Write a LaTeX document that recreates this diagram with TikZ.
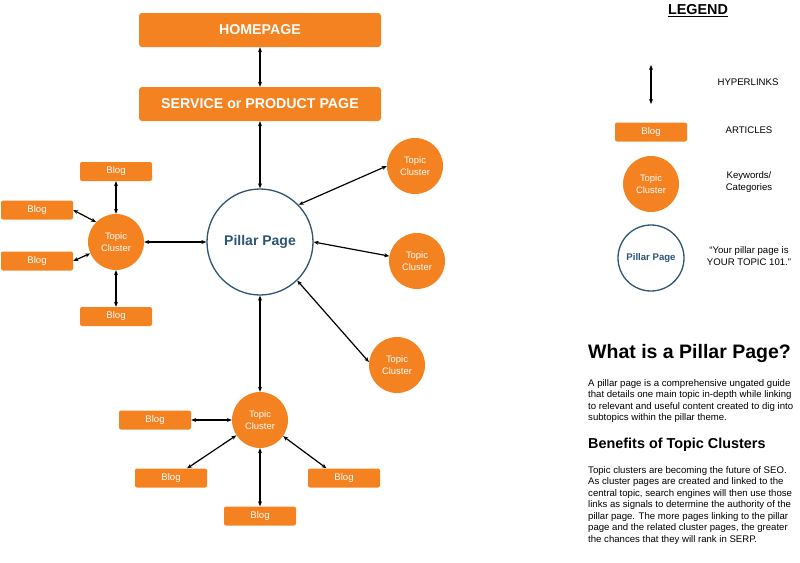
\documentclass[tikz,border=0pt]{standalone}
\usepackage{fontspec}
\setmainfont{Liberation Sans}
\usetikzlibrary{arrows.meta,positioning,calc}
\definecolor{seoorange}{RGB}{245,130,32}
\definecolor{pillarblue}{RGB}{46,84,117}
\tikzset{
  pagebox/.style={fill=seoorange, rounded corners=3pt, minimum width=242pt, minimum height=34pt, text=white, font=\bfseries\fontsize{14.2}{16}\selectfont},
  blogbox/.style={fill=seoorange, rounded corners=2pt, minimum width=72pt, minimum height=19pt, inner sep=0pt, text=white, font=\fontsize{9.6}{11}\selectfont},
  topicnd/.style={circle, fill=seoorange, minimum size=56pt, inner sep=0pt, text=white, align=center, font=\fontsize{9.4}{11.7}\selectfont},
  pillarnd/.style={circle, draw=pillarblue, line width=1.3pt, fill=white, minimum size=106pt, inner sep=0pt, text=pillarblue, font=\bfseries\fontsize{14}{16}\selectfont},
  linkln/.style={{Stealth[length=5pt,width=4pt]}-{Stealth[length=5pt,width=4pt]}, line width=1.2pt},
  legtxt/.style={font=\fontsize{9.6}{12.3}\selectfont, align=center},
  bodytxt/.style={anchor=north west, inner sep=0pt, align=left, font=\fontsize{9.6}{11.5}\selectfont},
}

\begin{document}
\begin{tikzpicture}[x=1pt, y=-1pt]
    \useasboundingbox (0,0) rectangle (800,562);
    % pages
    \node[pagebox] (home) at (260,30) {HOMEPAGE};
    \node[pagebox] (service) at (260,104) {SERVICE or PRODUCT PAGE};
    \node[pillarnd] (pillar) at (260,242) {Pillar Page};
    % left cluster
    \node[topicnd] (leftc) at (116,242) {Topic\\Cluster};
    \node[blogbox] (lb1) at (116,171.5) {Blog};
    \node[blogbox] (lb2) at (37,210) {Blog};
    \node[blogbox] (lb3) at (37,261) {Blog};
    \node[blogbox] (lb4) at (116,316.5) {Blog};
    % right clusters
    \node[topicnd] (rc1) at (415,166) {Topic\\Cluster};
    \node[topicnd] (rc2) at (417,261) {Topic\\Cluster};
    \node[topicnd] (rc3) at (397,365) {Topic\\Cluster};
    % bottom cluster
    \node[topicnd] (botc) at (260,420) {Topic\\Cluster};
    \node[blogbox] (bb1) at (155,420) {Blog};
    \node[blogbox] (bb2) at (171,478) {Blog};
    \node[blogbox] (bb3) at (260,516) {Blog};
    \node[blogbox] (bb4) at (344,478) {Blog};
    % hyperlinks
    \draw[linkln] (home) -- (service);
    \draw[linkln] (service) -- (pillar);
    \draw[linkln] (pillar) -- (leftc);
    \draw[linkln] (pillar.44) -- (rc1.west);
    \draw[linkln] (pillar.east) -- (rc2.170);
    \draw[linkln] (pillar.-46) -- (rc3.174);
    \draw[linkln] (pillar) -- (botc);
    \draw[linkln] (lb1) -- (leftc);
    \draw[linkln] (lb2.east) -- (leftc.135);
    \draw[linkln] (lb3.east) -- (leftc.204);
    \draw[linkln] (lb4) -- (leftc);
    \draw[linkln] (bb1) -- (botc);
    \draw[linkln] (bb2.31) -- (botc.213);
    \draw[linkln] (bb3) -- (botc);
    \draw[linkln] (bb4.151) -- (botc.-35);
    % legend
    \node[font=\bfseries\fontsize{14.4}{16}\selectfont] (legtitle) at (698,11) {\underline{LEGEND}};
    \coordinate (lgtop) at (651,65);
    \coordinate (lgbot) at (651,104);
    \draw[linkln] (lgtop) -- (lgbot);
    \node[legtxt] (lghyp) at (748,82) {HYPERLINKS};
    \node[blogbox] (lgblog) at (651,132) {Blog};
    \node[legtxt] (lgart) at (749,130) {ARTICLES};
    \node[topicnd] (lgtopic) at (651,184) {Topic\\Cluster};
    \node[legtxt] (lgkey) at (749,182) {Keywords/\\Categories};
    \node[pillarnd, minimum size=66pt, font=\bfseries\fontsize{9.6}{11}\selectfont] (lgpillar) at (651,258) {Pillar Page};
    \node[legtxt] (lgquote) at (749,256) {“Your pillar page is\\YOUR TOPIC 101.”};
    % explanation
    \node[anchor=base west, inner sep=0pt, font=\bfseries\fontsize{19.5}{22}\selectfont] (whatis) at (588,358) {What is a Pillar Page?};
    \node[bodytxt] (whatpar) at (588,379) {A pillar page is a comprehensive ungated guide\\that details one main topic in-depth while linking\\to relevant and useful content created to dig into\\subtopics within the pillar theme.};
    \node[anchor=base west, inner sep=0pt, font=\bfseries\fontsize{14.4}{16}\selectfont] (benefits) at (588,448) {Benefits of Topic Clusters};
    \node[bodytxt] (benpar) at (588,466) {Topic clusters are becoming the future of SEO.\\As cluster pages are created and linked to the\\central topic, search engines will then use those\\links as signals to determine the authority of the\\pillar page. The more pages linking to the pillar\\page and the related cluster pages, the greater\\the chances that they will rank in SERP.};
\end{tikzpicture}
\end{document}
